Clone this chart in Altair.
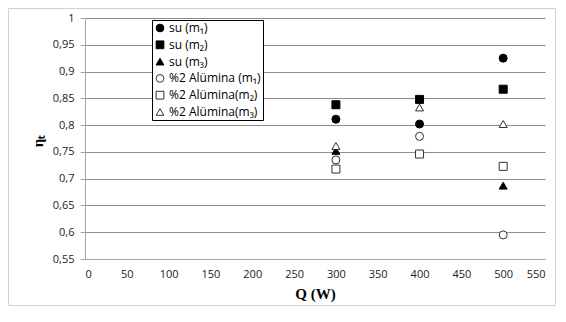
import altair as alt
import pandas as pd

Q = [300, 400, 500]
series_names = ["su (m₁)", "su (m₂)", "su (m₃)",
                "%2 Alümina (m₁)", "%2 Alümina(m₂)", "%2 Alümina(m₃)"]
su_m1 = [0.811, 0.802, 0.925]
su_m2 = [0.838, 0.848, 0.867]
su_m3 = [0.752, None, 0.687]
al_m1 = [0.735, 0.779, 0.595]
al_m2 = [0.718, 0.746, 0.723]
al_m3 = [0.761, 0.833, 0.802]
y_ticks = [0.55, 0.6, 0.65, 0.7, 0.75, 0.8, 0.85, 0.9, 0.95, 1.0]
x_ticks = list(range(0, 551, 50))

shapes = ["circle", "square", "triangle-up", "circle", "square", "triangle-up"]
fills = ["black", "black", "black", "white", "white", "white"]
strokes = ["black", "black", "black", "#333333", "#333333", "#333333"]

rows = []
for name, vals in zip(series_names, [su_m1, su_m2, su_m3, al_m1, al_m2, al_m3]):
    for q, v in zip(Q, vals):
        if v is not None:
            rows.append({"Q": q, "eta": v, "series": name})
df = pd.DataFrame(rows)

W, H = 460, 241
PL, PT, PR, PB = 77, 10, 11, 47

LABEL_FONT = "Open Sans"

border = alt.Chart(pd.DataFrame({"a": [0]})).mark_rect(
    fill=None, stroke="#d0d0d0", strokeWidth=1
).encode(
    x=alt.value(-PL + 0.5), x2=alt.value(W + PR - 0.5),
    y=alt.value(-PT + 0.5), y2=alt.value(H + PB - 0.5),
)

points = alt.Chart(df).mark_point(size=64, filled=False, strokeWidth=1, opacity=1).encode(
    x=alt.X("Q:Q", scale=alt.Scale(domain=[0, 550], nice=False),
            axis=alt.Axis(values=x_ticks, title="Q (W)", grid=False, ticks=False,
                          labelPadding=9, titlePadding=7)),
    y=alt.Y("eta:Q", scale=alt.Scale(domain=[0.55, 1.0], nice=False, zero=False),
            axis=alt.Axis(values=y_ticks, title="ηₜ", grid=True, tickSize=5,
                          labelExpr="replace(toString(datum.value), '.', ',')",
                          labelPadding=6, titleX=-48, titleY=H / 2 + 2,
                          titleAlign="center", titleBaseline="middle")),
    shape=alt.Shape("series:N", scale=alt.Scale(domain=series_names, range=shapes),
                    legend=alt.Legend(title=None)),
    fill=alt.Fill("series:N", scale=alt.Scale(domain=series_names, range=fills),
                  legend=alt.Legend(title=None)),
    stroke=alt.Stroke("series:N", scale=alt.Scale(domain=series_names, range=strokes),
                      legend=alt.Legend(title=None)),
)

chart = alt.layer(border, points).properties(
    width=W, height=H,
    autosize=alt.AutoSizeParams(type="none"),
    padding={"left": PL, "top": PT, "right": PR, "bottom": PB},
).configure_view(stroke=None).configure_axis(
    labelFont=LABEL_FONT, labelFontSize=11, labelColor="#222222",
    titleFont="Liberation Serif", titleFontSize=15, titleFontWeight="bold",
    titleColor="black",
    domainColor="#a6a6a6", tickColor="#a6a6a6", gridColor="#8c8c8c",
    gridWidth=1,
).configure_axisY(titleAngle=-90).configure_legend(
    orient="none", legendX=67, legendY=2,
    fillColor="white", strokeColor="black", padding=2,
    labelFont=LABEL_FONT, labelFontSize=12, labelColor="black",
    symbolSize=60, rowPadding=4.8, labelOffset=3,
    symbolStrokeWidth=1,
)

chart.save("out.html", embed_options={"renderer": "svg", "actions": False})
